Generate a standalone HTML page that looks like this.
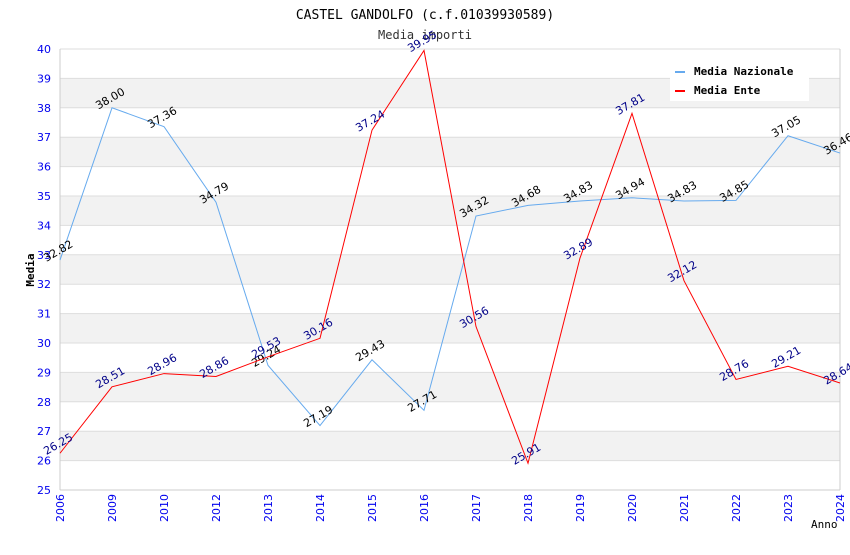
<!DOCTYPE html>
<html><head><meta charset="utf-8"><style>
body{margin:0;background:#fff}
svg text{font-family:"DejaVu Sans Mono","Liberation Mono",monospace}
svg text.s{font-family:"DejaVu Sans","Liberation Sans",sans-serif}
</style></head><body>
<svg id="chart" width="850" height="550" xmlns="http://www.w3.org/2000/svg">
<text x="425" y="19" text-anchor="middle" font-size="13" fill="#000">CASTEL GANDOLFO (c.f.01039930589)</text>
<text x="425" y="39" text-anchor="middle" font-size="12" fill="#333">Media importi</text>
<text x="34" y="270" text-anchor="middle" font-size="11" font-weight="bold" transform="rotate(-90 34 270)">Media</text>
<text x="811" y="528" font-size="11">Anno</text>
<g id="grid"></g><g id="axes"></g><g id="series"></g>
<g>
<rect x="670" y="61" width="139" height="40" fill="#fff"/>
<rect x="675" y="71" width="10" height="2" fill="#66aaee"/>
<text x="694" y="75" font-size="11" font-weight="bold">Media Nazionale</text>
<rect x="675" y="90" width="10" height="2" fill="#ff0000"/>
<text x="694" y="94" font-size="11" font-weight="bold">Media Ente</text>
</g>
</svg>
<script>
const years=["2006","2009","2010","2012","2013","2014","2015","2016","2017","2018","2019","2020","2021","2022","2023","2024"];
const nazionale=[32.82,38.00,37.36,34.79,29.24,27.19,29.43,27.71,34.32,34.68,34.83,34.94,34.83,34.85,37.05,36.46];
const ente=[26.25,28.51,28.96,28.86,29.53,30.16,37.24,39.95,30.56,25.91,32.89,37.81,32.12,28.76,29.21,28.64];
const yTicks=[25,26,27,28,29,30,31,32,33,34,35,36,37,38,39,40];
const NS="http://www.w3.org/2000/svg";
const L=60,R=840,T=49,B=490,ymin=25,ymax=40;
const xs=i=>L+i*(R-L)/(years.length-1);
const ys=v=>B-(v-ymin)*(B-T)/(ymax-ymin);
function mk(tag,attrs,parent,txt){const e=document.createElementNS(NS,tag);for(const k in attrs)e.setAttribute(k,attrs[k]);if(txt!==undefined)e.textContent=txt;parent.appendChild(e);return e;}
const grid=document.getElementById('grid'),axes=document.getElementById('axes'),ser=document.getElementById('series');
for(let t=ymin;t<ymax;t++){if(t%2===0&&t>25){const r=mk('rect',{x:L,y:ys(t+1),width:R-L,height:ys(t)-ys(t+1),fill:'#f2f2f2'},grid);}}
yTicks.forEach(t=>{const l=mk('line',{x1:L,x2:R,y1:ys(t),y2:ys(t),stroke:'#ddd'},grid);
const tx=mk('text',{class:'s',x:51,y:ys(t)+4,'text-anchor':'end','font-size':11,fill:'#0000ee'},axes,t);});
mk('line',{x1:L,x2:L,y1:T,y2:B,stroke:'#ccc'},axes);mk('line',{x1:R,x2:R,y1:T,y2:B,stroke:'#ccc'},axes);mk('line',{x1:L,x2:R,y1:B,y2:B,stroke:'#ccc'},axes);
years.forEach((y,i)=>{const x=xs(i);const tx=mk('text',{class:'s',x:x+4,y:B+4,'text-anchor':'end','font-size':11,fill:'#0000ee',transform:`rotate(-90 ${x+4} ${B+4})`},axes,y);});
function draw(data,color,labelColor,name){
const p=mk('polyline',{points:data.map((v,i)=>xs(i)+','+ys(v)).join(' '),fill:'none',stroke:color,'stroke-width':1},ser);

data.forEach((v,i)=>{const x=xs(i),y=ys(v)-6;const t=mk('text',{class:'s',x:x,y:y,'text-anchor':'middle','font-size':11,fill:labelColor,transform:`rotate(-30 ${x} ${y})`},ser,v.toFixed(2));});}
draw(nazionale,'#66aaee','#000','nazionale');
draw(ente,'#ff0000','#000088','ente');
</script>
</body></html>
